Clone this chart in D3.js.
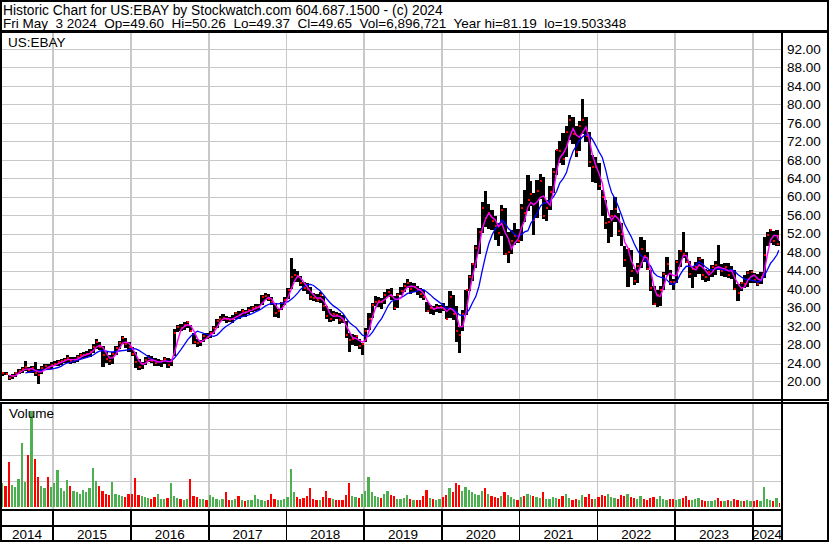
<!DOCTYPE html>
<html>
<head>
<meta charset="utf-8">
<script src="https://cdn.jsdelivr.net/npm/d3@7"></script>
<style>
  body { margin: 0; background: #fff; }
  svg text { font-family: "Liberation Sans", Arial, sans-serif; fill: #000; }
</style>
</head>
<body>
<div id="chart"></div>
<script>
// half-month periods starting 2014-05-01, last one ends 2024-05-03
var highs = [
  22.0,22.1,21.4,21.6,22.0,22.7,23.1,24.3,23.2,23.4,24.1,22.6,23.3,23.8,23.8,24.2,
  24.4,24.6,24.8,25.0,25.6,25.3,25.2,25.6,26.1,26.3,26.6,26.9,28.0,29.2,28.6,27.7,26.3,25.6,26.4,27.7,28.8,29.8,29.3,28.6,
  27.4,26.3,24.9,24.2,25.2,25.6,25.4,25.0,24.9,24.6,25.2,25.0,24.9,31.3,32.2,32.4,32.8,33.1,32.2,30.4,29.2,29.0,30.2,30.4,
  31.0,31.9,33.6,34.2,34.6,34.1,34.0,34.3,35.1,35.3,35.6,35.4,36.0,36.4,36.7,36.8,38.6,39.2,39.0,38.3,37.0,35.6,37.2,38.2,
  40.2,46.8,44.3,43.8,42.8,41.6,41.2,40.5,39.2,38.9,39.3,38.4,36.4,35.7,35.3,35.0,34.9,34.4,33.1,30.5,30.3,30.1,29.2,28.4,
  31.5,34.9,37.0,38.5,38.3,38.1,39.4,40.0,40.3,38.4,39.2,40.5,41.2,42.1,41.6,41.2,40.6,40.2,39.8,37.2,36.6,36.4,36.8,36.6,
  36.9,36.4,39.5,38.6,36.4,31.8,35.5,39.8,43.0,45.6,49.5,53.2,58.8,61.2,58.5,57.0,55.7,54.2,58.2,57.6,52.4,52.8,54.2,53.0,
  58.5,61.4,64.7,63.4,60.8,63.6,65.0,64.2,59.2,62.4,66.2,70.1,72.0,73.7,75.4,77.6,77.2,75.2,76.4,81.2,77.2,74.0,69.0,68.6,
  67.2,61.4,59.3,55.4,57.0,60.0,56.4,54.2,49.2,48.6,48.5,44.4,45.6,51.3,50.6,48.0,44.1,40.6,39.8,40.6,43.6,47.0,44.1,42.2,
  46.2,48.5,52.4,48.0,46.0,45.0,45.8,47.0,46.4,44.4,44.2,45.2,46.0,49.5,45.4,45.6,45.6,45.0,44.2,41.0,41.6,43.1,43.8,44.2,
  43.4,43.2,43.6,51.3,52.4,53.0,52.6,52.7,50.3
];
var lows = [
  21.2,21.3,20.3,20.4,20.9,21.6,21.8,22.2,21.8,21.9,21.2,19.5,21.6,22.4,22.4,22.6,
  23.3,23.4,23.6,23.9,24.0,23.8,23.9,24.2,24.8,25.0,25.1,25.3,26.2,27.0,26.8,23.0,24.0,23.6,23.8,25.6,27.0,28.1,27.2,26.4,
  25.4,22.8,22.4,22.6,23.6,24.2,23.9,23.4,23.3,23.1,23.8,22.9,23.4,25.5,30.6,30.9,31.2,31.6,30.6,28.0,27.4,27.7,28.5,29.2,
  29.3,30.2,31.6,32.9,33.1,32.6,32.8,32.7,33.4,33.6,34.0,33.9,34.6,35.0,35.3,35.4,36.6,37.6,37.3,36.6,34.0,33.8,35.4,36.6,
  37.8,40.0,41.5,41.6,40.6,39.6,39.0,37.6,37.3,37.1,37.0,35.3,33.6,32.8,33.0,33.4,32.4,32.6,29.4,26.3,27.8,27.7,27.0,25.6,
  28.5,31.2,33.8,36.4,36.2,35.6,36.7,38.2,37.6,35.5,35.8,38.6,39.4,40.3,39.0,39.3,38.6,38.0,37.6,35.0,34.6,34.3,35.1,34.8,
  35.2,33.4,33.8,33.3,28.6,26.1,30.8,34.4,39.6,41.8,44.6,47.6,52.2,53.4,53.0,52.8,50.6,49.2,51.4,47.4,45.6,47.6,49.6,49.9,
  50.4,54.6,56.8,58.0,51.7,55.4,59.4,55.2,54.8,57.0,60.8,64.6,67.2,66.8,68.6,72.2,71.4,68.6,69.8,73.6,71.8,66.4,63.2,62.9,
  61.4,55.7,53.0,49.9,51.3,54.6,51.4,49.2,44.8,40.5,42.6,40.8,41.2,44.6,45.8,44.1,39.6,36.6,36.2,36.4,39.8,43.0,40.8,39.8,
  41.4,44.8,46.8,45.6,42.4,40.2,42.6,43.2,42.0,41.6,41.8,42.6,43.0,44.2,42.8,42.6,42.4,42.2,39.8,37.3,39.6,40.2,40.5,41.4,
  41.2,40.6,41.0,42.4,49.4,49.9,49.6,49.2,49.4
];
var closes = [
  21.7,21.5,20.7,21.2,21.8,22.3,22.6,23.0,22.4,22.8,21.9,21.4,22.9,23.3,22.9,23.6,
  23.8,24.1,24.4,24.6,25.1,24.4,24.6,25.3,25.6,25.8,26.0,26.4,27.4,28.5,27.5,25.8,24.8,24.5,25.9,27.3,28.2,29.3,28.0,27.4,
  26.0,24.2,23.1,23.8,24.6,25.0,24.4,24.0,24.2,24.4,24.8,23.6,24.5,30.4,31.8,31.6,32.3,32.8,31.0,28.6,28.3,28.6,29.8,29.7,
  30.4,31.6,33.1,33.6,33.7,33.5,33.3,33.6,34.8,34.3,35.2,35.0,35.4,35.8,36.1,36.2,38.2,38.5,37.9,37.1,34.9,35.2,36.9,37.7,
  39.8,42.5,43.0,42.9,41.2,40.2,40.0,38.2,38.0,37.7,38.6,36.3,34.2,33.5,34.6,34.4,33.2,33.0,30.1,29.0,29.2,29.8,27.6,28.1,
  31.0,33.6,36.6,37.2,37.5,37.1,38.6,39.3,38.4,35.9,38.8,39.5,40.6,41.2,40.0,40.4,39.7,39.0,38.2,35.3,35.9,35.7,36.0,36.1,
  35.6,33.6,38.2,34.5,31.0,30.0,34.6,39.8,42.6,45.5,48.8,52.4,57.6,55.3,56.4,54.8,53.6,52.1,57.0,47.6,48.0,50.4,51.5,50.3,
  57.6,56.5,59.2,60.5,55.0,61.2,63.4,55.8,57.6,60.9,65.4,70.0,69.8,68.2,74.0,76.7,73.6,69.7,75.3,76.7,73.2,67.5,66.4,66.5,
  62.2,60.0,54.2,54.6,55.8,57.3,52.6,51.9,46.2,48.6,43.8,41.7,44.9,48.6,47.2,44.4,40.2,36.8,38.6,39.8,43.2,45.5,41.6,41.5,
  45.8,48.3,47.6,45.9,43.2,44.4,44.8,46.5,43.0,42.5,43.6,44.7,45.2,44.5,43.8,44.8,43.0,44.1,40.0,39.2,41.2,41.0,43.4,43.6,
  42.0,41.0,42.6,47.3,51.6,52.8,50.4,51.5,49.7
];
// millions of shares
var volumes = [
  46,40,86,42,38,52,123,48,100,184,91,56,40,35,56,38,
  45,71,35,30,51,40,30,28,25,32,27,35,74,50,40,30,25,22,47,25,22,20,18,25,
  25,54,22,20,18,16,15,18,25,15,14,16,45,20,16,14,12,15,52,20,18,15,14,12,
  22,18,14,12,15,28,13,12,14,20,12,11,13,12,22,14,12,11,13,24,15,13,12,14,
  18,73,28,18,15,16,20,35,14,13,12,18,30,16,14,12,13,12,22,45,20,18,16,24,
  30,56,28,20,18,16,24,30,22,20,15,14,16,22,14,12,13,12,20,32,16,14,13,15,
  18,22,36,28,45,42,30,38,32,28,25,22,30,35,24,20,18,16,20,28,22,18,14,12,
  18,20,25,22,20,18,16,28,15,14,18,16,14,20,24,16,12,14,13,22,18,24,15,14,
  18,22,20,25,18,16,14,22,20,24,18,16,15,20,14,13,16,18,15,20,14,13,15,14,
  12,14,16,20,13,12,14,16,12,11,10,11,12,16,11,10,12,11,14,13,10,11,12,10,
  11,12,10,38,14,12,10,16,7
];

var priceTicks = [20,24,28,32,36,40,44,48,52,56,60,64,68,72,76,80,84,88,92];
var volumeTicks = [50, 100, 150];
var yearLabels = ["2014","2015","2016","2017","2018","2019","2020","2021","2022","2023","2024"];

var titleLine = "Historic Chart for US:EBAY by Stockwatch.com 604.687.1500 - (c) 2024";
var quoteLine = "Fri May  3 2024  Op=49.60  Hi=50.26  Lo=49.37  Cl=49.65  Vol=6,896,721  Year hi=81.19  lo=19.503348";

var width = 830, height = 543,
    plotLeft = 2, plotRight = 781,
    priceTop = 33, priceBottom = 400,
    volTop = 404, volBottom = 509,
    gridColour = "#c8c8c8";

var startDate = new Date(2014, 4, 1),
    lastDay = new Date(2024, 4, 3);

var periods = highs.map(function(d, i) {
  return {
    date: new Date(2014, 4 + Math.floor(i / 2), i % 2 ? 16 : 1),
    high: highs[i], low: lows[i], close: closes[i], volume: volumes[i]
  };
});
periods.forEach(function(d, i) {
  d.end = i < periods.length - 1 ? periods[i + 1].date : lastDay;
  d.up = i == 0 || d.close >= periods[i - 1].close;
});

var x = d3.scaleTime().domain([startDate, lastDay]).range([1, 779]),
    yPrice = d3.scaleLinear().domain([20, 80]).range([381.3, 104.3]),
    yVol = d3.scaleLinear().domain([0, 150]).range([506.5, 428.5]);

var yearStarts = d3.timeYear.range(new Date(2015, 0, 1), new Date(2025, 0, 1));

var svg = d3.select("#chart").append("svg")
  .attr("width", width)
  .attr("height", height);

var defs = svg.append("defs");
defs.append("clipPath").attr("id", "clipPrice").append("rect")
  .attr("x", plotLeft).attr("y", priceTop).attr("width", plotRight - plotLeft).attr("height", priceBottom - priceTop);
defs.append("clipPath").attr("id", "clipVol").append("rect")
  .attr("x", plotLeft).attr("y", volTop).attr("width", plotRight - plotLeft).attr("height", volBottom - volTop);
defs.append("clipPath").attr("id", "clipAxis").append("rect")
  .attr("x", 783).attr("y", 0).attr("width", 44).attr("height", height);

// header text
svg.append("text").attr("x", 3).attr("y", 14.5).attr("font-size", 13.8).text(titleLine);
svg.append("text").attr("x", 3).attr("y", 28).attr("font-size", 13.5)
  .attr("xml:space", "preserve").style("white-space", "pre").text(quoteLine);

// grid
var grid = svg.append("g").attr("shape-rendering", "crispEdges");
grid.selectAll(null).data(priceTicks).enter().append("line")
  .attr("x1", plotLeft).attr("x2", plotRight)
  .attr("y1", function(d) { return Math.round(yPrice(d)) + 0.5; })
  .attr("y2", function(d) { return Math.round(yPrice(d)) + 0.5; })
  .attr("stroke", gridColour);
grid.selectAll(null).data(volumeTicks).enter().append("line")
  .attr("x1", plotLeft).attr("x2", plotRight)
  .attr("y1", function(d) { return Math.round(yVol(d)) + 0.5; })
  .attr("y2", function(d) { return Math.round(yVol(d)) + 0.5; })
  .attr("stroke", gridColour);
yearStarts.forEach(function(d) {
  [[priceTop, priceBottom], [volTop, volBottom]].forEach(function(r) {
    grid.append("line")
      .attr("x1", x(d)).attr("x2", x(d))
      .attr("y1", r[0]).attr("y2", r[1])
      .attr("stroke", gridColour).attr("stroke-width", 1.5);
  });
});

// price bars
var price = svg.append("g").attr("clip-path", "url(#clipPrice)");
price.append("g").attr("shape-rendering", "crispEdges")
  .selectAll("rect").data(periods).enter().append("rect")
  .attr("x", function(d) { return x(d.date); })
  .attr("width", function(d) { return Math.max(1, x(d.end) - x(d.date)); })
  .attr("y", function(d) { return yPrice(d.high); })
  .attr("height", function(d) { return Math.max(1, yPrice(d.low) - yPrice(d.high)); })
  .attr("fill", "#000");

price.append("g").attr("shape-rendering", "crispEdges")
  .selectAll("rect").data(periods).enter().append("rect")
  .attr("x", function(d) { return x(d.end) - 2; })
  .attr("y", function(d) { return yPrice(d.close) - 1; })
  .attr("width", 2).attr("height", 2)
  .attr("fill", "#ff0000");

function movingAverage(n) {
  return periods.map(function(d, i) {
    if (i < n - 1) return null;
    return d3.mean(periods.slice(i - n + 1, i + 1), function(p) { return p.close; });
  });
}

function mid(i) {
  return (x(periods[i].date) + x(periods[i].end)) / 2;
}

var maLine = d3.line()
  .defined(function(d) { return d != null; })
  .x(function(d, i) { return mid(i); })
  .y(function(d) { return yPrice(d); });

price.append("path").datum(movingAverage(8))
  .attr("fill", "none").attr("stroke", "#0000ff").attr("stroke-width", 1.3)
  .attr("d", maLine);
price.append("path").datum(movingAverage(3))
  .attr("fill", "none").attr("stroke", "#ff00ff").attr("stroke-width", 1.4)
  .attr("d", maLine);

// volume bars
svg.append("g").attr("clip-path", "url(#clipVol)").attr("shape-rendering", "crispEdges")
  .selectAll("rect").data(periods).enter().append("rect")
  .attr("x", function(d) { return x(d.date); })
  .attr("width", function(d) { return Math.max(1, x(d.end) - x(d.date) - 1); })
  .attr("y", function(d) { return yVol(d.volume); })
  .attr("height", function(d) { return yVol(0) - yVol(d.volume); })
  .attr("fill", function(d) { return d.up ? "#4caf50" : "#ff0000"; });

// panel labels
svg.append("text").attr("x", 8).attr("y", 47).attr("font-size", 13.5).text("US:EBAY");
svg.append("text").attr("x", 9).attr("y", 418).attr("font-size", 13.5).text("Volume");

// right axes
var priceAxis = svg.append("g")
  .attr("transform", "translate(783,0)")
  .call(d3.axisRight(yPrice).tickValues(priceTicks).tickSize(0).tickPadding(4)
    .tickFormat(d3.format(".2f")));
var volAxis = svg.append("g")
  .attr("transform", "translate(783,0)")
  .attr("clip-path", "url(#clipAxis)")
  .call(d3.axisRight(yVol).tickValues(volumeTicks).tickSize(0).tickPadding(4)
    .tickFormat(function(d) { return d.toFixed(1) + " M"; }));
[priceAxis, volAxis].forEach(function(a) {
  a.select(".domain").remove();
  a.attr("font-family", null).attr("font-size", 13.5);
  a.selectAll("text").attr("fill", "#000");
});

// year axis
var bounds = [1].concat(yearStarts.map(function(d) { return x(d); }), [plotRight]);
svg.append("g").selectAll(null).data(yearLabels).enter().append("text")
  .attr("x", function(d, i) { return (bounds[i] + bounds[i + 1]) / 2; })
  .attr("y", 539)
  .attr("text-anchor", "middle")
  .attr("font-size", 13.5)
  .text(function(d) { return d; });

// frames
var frame = svg.append("g").attr("stroke", "#000").attr("fill", "none").attr("shape-rendering", "crispEdges");
frame.append("rect").attr("x", 1).attr("y", 1).attr("width", 827).attr("height", 30).attr("stroke-width", 2);
frame.append("line").attr("x1", 1).attr("x2", 828).attr("y1", 400.5).attr("y2", 400.5).attr("stroke-width", 1);
frame.append("rect").attr("x", 1).attr("y", 32).attr("width", 827).attr("height", 368).attr("stroke-width", 2);
frame.append("rect").attr("x", 1).attr("y", 403).attr("width", 827).attr("height", 138).attr("stroke-width", 2);
frame.append("line").attr("x1", 782).attr("x2", 782).attr("y1", 32).attr("y2", 541).attr("stroke-width", 2);
frame.append("line").attr("x1", 1).attr("x2", 782).attr("y1", 510).attr("y2", 510).attr("stroke-width", 2);
frame.append("line").attr("x1", 1).attr("x2", 782).attr("y1", 526).attr("y2", 526).attr("stroke-width", 2);
frame.selectAll(null).data(yearStarts).enter().append("line")
  .attr("x1", function(d) { return x(d); }).attr("x2", function(d) { return x(d); })
  .attr("y1", 510).attr("y2", 541).attr("stroke-width", 1.5);
</script>
</body>
</html>
